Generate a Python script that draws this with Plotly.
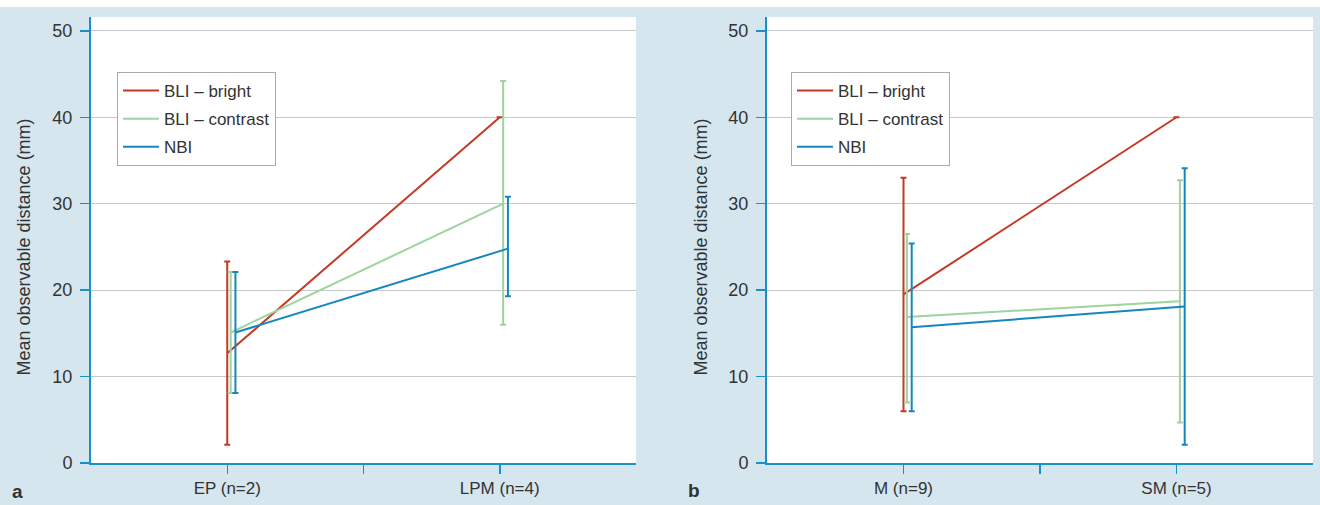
import plotly.graph_objects as go

# ---------------- data ----------------
series_names = ["BLI – bright", "BLI – contrast", "NBI"]

cats_a = ["EP (n=2)", "LPM (n=4)"]
mean_a = {"BLI – bright": [12.7, 40.0], "BLI – contrast": [15.1, 30.0], "NBI": [15.1, 24.8]}
upper_a = {"BLI – bright": [23.3, 40.0], "BLI – contrast": [22.1, 44.2], "NBI": [22.1, 30.8]}
lower_a = {"BLI – bright": [2.1, 40.0], "BLI – contrast": [8.1, 16.0], "NBI": [8.1, 19.3]}

cats_b = ["M (n=9)", "SM (n=5)"]
mean_b = {"BLI – bright": [19.5, 40.0], "BLI – contrast": [16.9, 18.7], "NBI": [15.7, 18.1]}
upper_b = {"BLI – bright": [33.0, 40.0], "BLI – contrast": [26.5, 32.7], "NBI": [25.4, 34.1]}
lower_b = {"BLI – bright": [6.0, 40.0], "BLI – contrast": [7.0, 4.7], "NBI": [6.0, 2.1]}

y_ticks = [0, 10, 20, 30, 40, 50]

# ---------------- styles ----------------
colors = {"BLI – bright": "#c43a25", "BLI – contrast": "#9dd49f", "NBI": "#1488be"}
offsets = {"BLI – bright": 0.0, "BLI – contrast": 0.025, "NBI": 0.06}
cat_pos = [0, 2]
AXIS = "#1a90c6"
BG = "#d6e6ef"
GRID = "#c8c8c8"
TXT = "#333333"
FONT = "Liberation Sans, Arial, sans-serif"

W, H0 = 1320, 505
H = 515
S = H / H0

fig = go.Figure()


def add_panel(means, ups, lows, xa, ya, legend):
    for name in series_names:
        xs = [p + offsets[name] for p in cat_pos]
        m = means[name]
        plus = [u - v for u, v in zip(ups[name], m)]
        minus = [v - l for v, l in zip(m, lows[name])]
        fig.add_trace(go.Scatter(
            x=xs, y=m, mode="lines", name=name,
            line=dict(color=colors[name], width=2),
            error_y=dict(type="data", symmetric=False, array=plus, arrayminus=minus,
                         color=colors[name], thickness=2, width=3),
            xaxis=xa, yaxis=ya, legend=legend, legendgroup=legend + name,
            hoverinfo="skip",
        ))


add_panel(mean_a, upper_a, lower_a, "x", "y", "legend")
add_panel(mean_b, upper_b, lower_b, "x2", "y2", "legend2")

px_x = lambda p: p / W
px_y = lambda p: (H - p * S) / H

ydom = [px_y(463), px_y(17)]

axis_common_y = dict(
    range=[0, 51.6], tickvals=y_ticks, showgrid=True, gridcolor=GRID, gridwidth=1,
    zeroline=False, showline=True, linecolor=AXIS, linewidth=2,
    ticks="outside", ticklen=9, tickcolor=AXIS, tickwidth=1.5,
    tickfont=dict(family=FONT, size=18, color=TXT), ticklabelstandoff=4,
    domain=ydom, fixedrange=True,
)
axis_common_x = dict(
    range=[-1, 3], tickvals=[0, 1, 2], showgrid=False, zeroline=False,
    showline=True, linecolor=AXIS, linewidth=2,
    ticks="outside", ticklen=9, tickcolor=AXIS, tickwidth=1.5,
    tickfont=dict(family=FONT, size=17, color=TXT), fixedrange=True,
)

legend_common = dict(
    bgcolor="white", bordercolor="#aaaaaa", borderwidth=1,
    font=dict(family=FONT, size=17, color=TXT),
    xanchor="left", yanchor="top", tracegroupgap=3, itemwidth=36,
)

fig.update_layout(
    width=W, height=H, autosize=False,
    margin=dict(l=0, r=0, t=0, b=0),
    paper_bgcolor=BG, plot_bgcolor="white",
    showlegend=True,
    xaxis=dict(axis_common_x, domain=[px_x(91), px_x(636)],
               ticktext=[cats_a[0], "", cats_a[1]], anchor="y"),
    yaxis=dict(axis_common_y, anchor="x"),
    xaxis2=dict(axis_common_x, domain=[px_x(767), px_x(1313)],
                ticktext=[cats_b[0], "", cats_b[1]], anchor="y2"),
    yaxis2=dict(axis_common_y, anchor="x2"),
    legend=dict(legend_common, x=px_x(117), y=px_y(72)),
    legend2=dict(legend_common, x=px_x(791), y=px_y(72)),
    shapes=[dict(type="rect", xref="paper", yref="paper", x0=0, x1=1,
                 y0=px_y(7), y1=1, fillcolor="white", line=dict(width=0), layer="below")],
    annotations=[
        dict(text="Mean observable distance (mm)", textangle=-90, xref="paper", yref="paper",
             x=px_x(23), y=px_y(247.5), xanchor="center", yanchor="middle", showarrow=False,
             font=dict(family=FONT, size=18, color=TXT)),
        dict(text="Mean observable distance (mm)", textangle=-90, xref="paper", yref="paper",
             x=px_x(700), y=px_y(247.5), xanchor="center", yanchor="middle", showarrow=False,
             font=dict(family=FONT, size=18, color=TXT)),
        dict(text="<b>a</b>", xref="paper", yref="paper", x=px_x(17), y=px_y(491),
             xanchor="center", yanchor="middle", showarrow=False,
             font=dict(family=FONT, size=19, color=TXT)),
        dict(text="<b>b</b>", xref="paper", yref="paper", x=px_x(694), y=px_y(490),
             xanchor="center", yanchor="middle", showarrow=False,
             font=dict(family=FONT, size=19, color=TXT)),
    ],
)

fig.write_html(
    "out.html",
    config={"displayModeBar": False, "staticPlot": True},
    post_script=(
        "document.documentElement.style.margin='0px';"
        "document.body.style.margin='0px';"
        "document.body.style.overflow='hidden';"
    ),
)
